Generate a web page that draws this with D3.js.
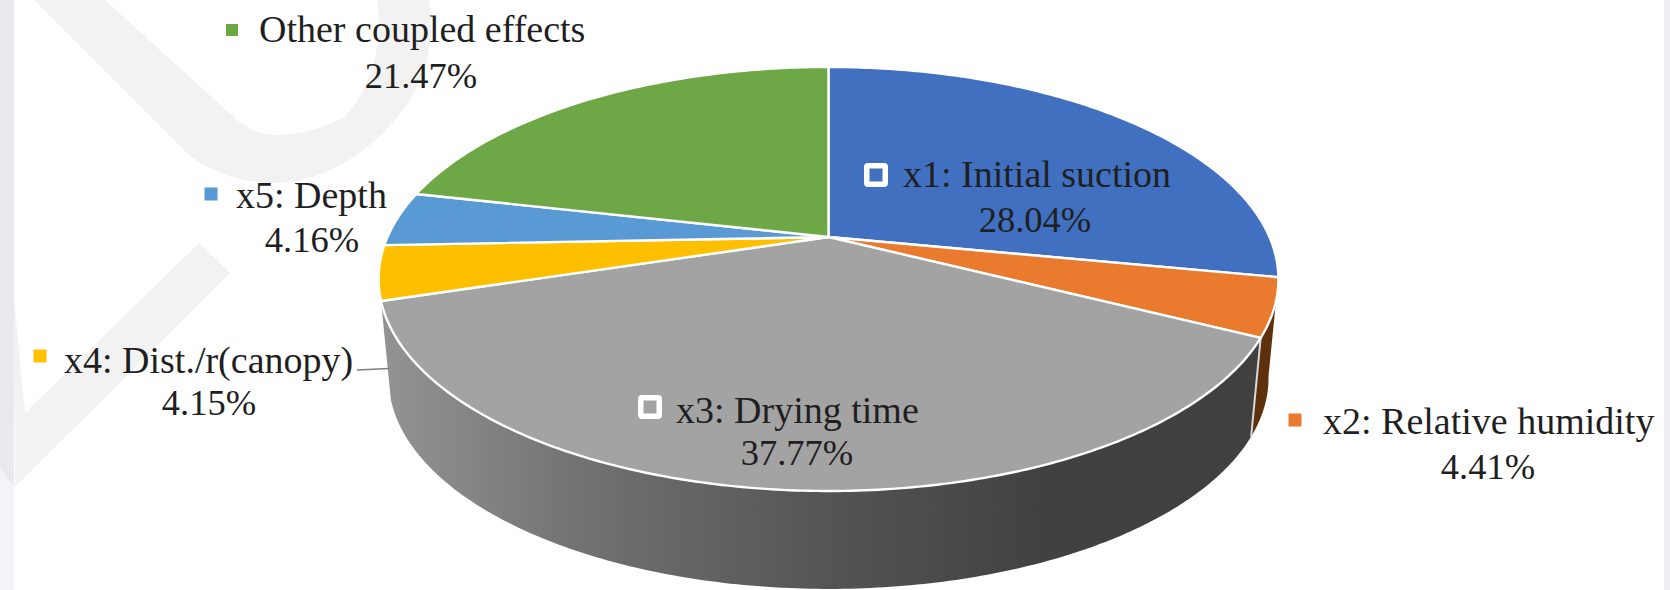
<!DOCTYPE html>
<html>
<head>
<meta charset="utf-8">
<script src="https://cdn.jsdelivr.net/npm/d3@7/dist/d3.min.js"></script>
<style>
html,body{margin:0;padding:0;background:#fff;overflow:hidden}
svg{display:block}
text{font-family:"Liberation Serif",serif;fill:#1f1f1f}
</style>
</head>
<body>
<svg id="chart" width="1670" height="590"></svg>
<script>
// Contribution of each factor, clockwise from twelve o'clock
const categories = ["x1: Initial suction","x2: Relative humidity","x3: Drying time","x4: Dist./r(canopy)","x5: Depth","Other coupled effects"];
const shares = [28.04,4.41,37.77,4.15,4.16,21.47];
const sliceColors = ["#4170c0","#e97a2e","#a3a3a3","#fdbf00","#5a9ad4","#6ea846"];
const wallColors = [null,"#5e300c","url(#wallShade)",null,null,null];

// Label placement: marker centre, text start, percentage centre, baselines
const labelLayout = [
  {mx:876,my:175,ms:24,boxed:true,tx:903,ty:187,px:1035,py:232},
  {mx:1295,my:420,ms:13,tx:1323,ty:434,px:1488,py:479},
  {mx:650,my:407,ms:24,boxed:true,tx:676,ty:423,px:797,py:465},
  {mx:40,my:356,ms:13,tx:64,ty:373,px:209,py:415},
  {mx:211,my:194,ms:13,tx:236,ty:208,px:312,py:252},
  {mx:232,my:30,ms:12,tx:259,ty:42,px:421,py:88}
];

const svg = d3.select("#chart");
const NAME_FONT = 38, VALUE_FONT = 36.5;

// Perspective projection of a flat disc onto the screen
const cx = 828.5, apexY = 237, depthY = 99.2, tilt = 0.198, A = 441, B = 203.7;
const rim = [
  {sx:1, sy:1},
  {sx:0.978, sy:0.995}
];
function project(angle, level){
  const r = rim[level];
  const u = Math.sin(angle), v = Math.cos(angle), w = 1 + tilt * v;
  return [cx + r.sx * A * u / w, apexY + level * depthY + r.sy * B * (-v) / w];
}
const arcPoints = (a0, a1, level) => {
  const n = Math.max(2, Math.ceil(Math.abs(a1 - a0) * 80));
  return d3.range(n + 1).map(i => project(a0 + (a1 - a0) * i / n, level));
};
const outline = d3.line();

const defs = svg.append("defs");
const grad = defs.append("linearGradient").attr("id","wallShade")
  .attr("gradientUnits","userSpaceOnUse").attr("x1",383).attr("x2",1260).attr("y1",0).attr("y2",0);
[[0,"#939393"],[0.25,"#6f6f6f"],[0.48,"#575757"],[0.75,"#414141"],[1,"#404040"]]
  .forEach(([o,c]) => grad.append("stop").attr("offset",o).attr("stop-color",c));

// Page backdrop: side strips and pale ribbons behind the chart
const back = svg.append("g");
back.append("rect").attr("x",0).attr("y",0).attr("width",14).attr("height",590).attr("fill","#f3f3f8");
back.append("path").attr("d","M0,0H14V487L0,468Z").attr("fill","#e9e9ee");
back.append("rect").attr("x",1664).attr("y",0).attr("width",6).attr("height",590).attr("fill","#eeeef2");
back.append("path").attr("fill","#f2f2f2")
  .attr("d","M105,0L237,120C252,132 264,135 275,135C305,135 330,125 344,117C368,95 385,45 377,0H429C436,60 420,95 383,133C345,170 305,183 275,183C245,183 218,175 191,157L34,0Z");
back.append("path").attr("fill","#f2f2f2")
  .attr("d","M199,243L230,273L15,487L14,297L25,413Z");

const pieAngles = d3.pie().sort(null).value(d => d)(shares);

// Side wall of the disc, only the front-facing slices are visible
const chart = svg.append("g");
pieAngles.forEach((p,i) => {
  if(!wallColors[i]) return;
  const pts = arcPoints(p.startAngle,p.endAngle,0).concat(arcPoints(p.endAngle,p.startAngle,1));
  chart.append("path").attr("d",outline(pts)+"Z")
    .attr("fill",wallColors[i]);
});
// Separator between the two visible wall faces
const seam = pieAngles[1].endAngle;
chart.append("path").attr("d",outline([project(seam,0),project(seam,1)]))
  .attr("stroke","#d8d8d8").attr("stroke-width",2).attr("fill","none");

// Top face
pieAngles.forEach((p,i) => {
  const pts = [[cx,apexY]].concat(arcPoints(p.startAngle,p.endAngle,0));
  chart.append("path").attr("d",outline(pts)+"Z")
    .attr("fill",sliceColors[i]).attr("stroke","#fff").attr("stroke-width",2.4).attr("stroke-linejoin","round");
});

// Leader line from the x4 label
svg.append("line").attr("x1",357).attr("y1",370).attr("x2",389).attr("y2",368.5)
  .attr("stroke","#7f7f7f").attr("stroke-width",1.5);

// Labels
const labels = svg.append("g");
categories.forEach((name,i) => {
  const l = labelLayout[i];
  labels.append("rect")
    .attr("x",l.mx-l.ms/2).attr("y",l.my-l.ms/2).attr("width",l.ms).attr("height",l.ms).attr("rx",l.boxed?4:0)
    .attr("fill",l.boxed?"#fff":sliceColors[i]);
  if(l.boxed) labels.append("rect")
    .attr("x",l.mx-6.5).attr("y",l.my-6.5).attr("width",13).attr("height",13).attr("fill",sliceColors[i]);
  labels.append("text").attr("x",l.tx).attr("y",l.ty).attr("font-size",NAME_FONT).text(name);
  labels.append("text").attr("x",l.px).attr("y",l.py).attr("font-size",VALUE_FONT)
    .attr("text-anchor","middle").text(d3.format(".2f")(shares[i])+"%");
});
</script>
</body>
</html>
